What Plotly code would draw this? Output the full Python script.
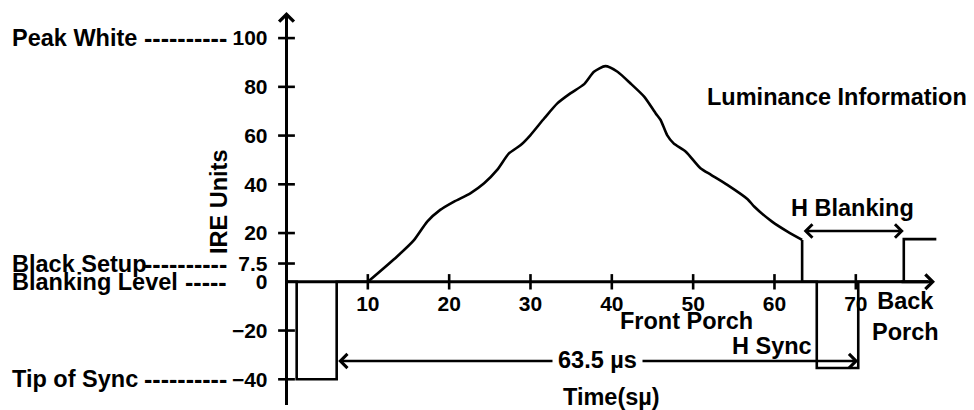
import plotly.graph_objects as go

# ---------------- data ----------------
# luminance waveform (time in µs, level in IRE)
curve_t = [10, 13.6, 15.7, 17.3, 18.9, 20.6, 22.6, 24.3, 25.9, 27.35, 28.8, 30.0,
           31.7, 33.3, 34.9, 36.6, 37.8, 39.2, 40.7, 42.3, 44.0, 45.4, 46.0, 46.8,
           47.6, 49.1, 50.9, 52.2, 54.2, 56.7, 57.5, 59.7, 61.6, 63.4]
curve_v = [0, 10.4, 17.2, 24.7, 29.5, 32.9, 36.3, 40.4, 45.9, 52.7, 56.1, 60.2,
           67.1, 73.2, 77.3, 81.1, 86.2, 88.5, 86.2, 81.4, 75.9, 69.1, 66.4, 60.2,
           56.8, 53.4, 46.6, 43.9, 39.8, 33.9, 30.9, 24.7, 20.6, 17.2]
# sync pulse at line start
sync_t = [0, 1.25, 1.25, 6.17, 6.17, 10]
sync_v = [0, 0, -40, -40, 0, 0]
# horizontal blanking interval
blank_t = [63.4, 63.4, 65.2, 65.2, 70.3, 70.3, 75.9, 75.9, 79.9]
blank_v = [17.2, 0, 0, -35.4, -35.4, 0, 0, 17.5, 17.5]

ytick_vals = [100, 80, 60, 40, 20, 7.5, 0, -20, -40]
ytick_text = ["100", "80", "60", "40", "20", "7.5", "0", "\u221220", "\u221240"]
ymark_vals = [100, 80, 60, 40, 20, 7.5, -20, -40]
xtick_vals = [10, 20, 30, 40, 50, 60, 70]
xtick_text = ["10", "20", "30", "40", "50", "60", "70"]

level_names = ["Peak White", "Black Setup", "Blanking Level", "Tip of Sync"]
level_vals = [100, 7.5, 0, -40]
level_dashes = ["----------", "----------", "-----", "----------"]

# ---------------- geometry ----------------
OFF = 8                        # page body margin of the browser
W, H = 974 - OFF, 410 - OFF    # figure size so the page shows exactly 974x410
X0PX, XSC = 286.5, 8.133       # window pixel of t=0, px per µs
Y0PX, YSC = 281.8, 2.437       # window pixel of 0 IRE, px per IRE
xr = [(OFF - X0PX) / XSC, (974 - X0PX) / XSC]
yr = [(Y0PX - 410) / YSC, (Y0PX - OFF) / YSC]


def tx(px):
    return (px - X0PX) / XSC


def vy(py):
    return (Y0PX - py) / YSC


FONT = "Liberation Sans, Arial, sans-serif"
LW = 2.6
FS = 23.5

fig = go.Figure()

fig.add_trace(go.Scatter(x=curve_t, y=curve_v, mode="lines",
                         line=dict(color="black", width=LW, shape="spline", smoothing=0.6),
                         hoverinfo="skip"))
fig.add_trace(go.Scatter(x=sync_t, y=sync_v, mode="lines",
                         line=dict(color="black", width=LW), hoverinfo="skip"))
fig.add_trace(go.Scatter(x=blank_t, y=blank_v, mode="lines",
                         line=dict(color="black", width=LW), hoverinfo="skip"))
# y-axis line
fig.add_trace(go.Scatter(x=[0, 0], y=[vy(405), vy(20)], mode="lines",
                         line=dict(color="black", width=3), hoverinfo="skip"))
# x-axis line
fig.add_trace(go.Scatter(x=[0, tx(928)], y=[0, 0], mode="lines",
                         line=dict(color="black", width=3), hoverinfo="skip"))
# tick marks crossing the axes
fig.add_trace(go.Scatter(x=[0] * len(ymark_vals), y=ymark_vals, mode="markers",
                         marker=dict(symbol="line-ew", size=12,
                                     line=dict(color="black", width=2.6)),
                         hoverinfo="skip"))
fig.add_trace(go.Scatter(x=xtick_vals, y=[0] * len(xtick_vals), mode="markers",
                         marker=dict(symbol="line-ns", size=11,
                                     line=dict(color="black", width=2.6)),
                         hoverinfo="skip"))

ann = []
# axis arrow heads
ann.append(dict(x=0, y=vy(12), ax=0, ay=vy(40), xref="x", yref="y", axref="x", ayref="y",
                text="", showarrow=True, arrowhead=4, arrowsize=0.95, arrowwidth=3,
                arrowcolor="black"))
ann.append(dict(x=tx(935), y=0, ax=tx(900), ay=0, xref="x", yref="y", axref="x", ayref="y",
                text="", showarrow=True, arrowhead=4, arrowsize=0.95, arrowwidth=3,
                arrowcolor="black"))
# H blanking double arrow
ann.append(dict(x=blank_t[-2], y=vy(231), ax=blank_t[0], ay=vy(231), xref="x", yref="y",
                axref="x", ayref="y", text="", showarrow=True, arrowhead=4,
                startarrowhead=4, arrowside="end+start", arrowsize=1, startarrowsize=1,
                arrowwidth=2.6, arrowcolor="black"))
# 63.5 µs double arrow
ann.append(dict(x=blank_t[4], y=vy(361), ax=sync_t[3], ay=vy(361), xref="x", yref="y",
                axref="x", ayref="y", text="", showarrow=True, arrowhead=4,
                startarrowhead=4, arrowside="end+start", arrowsize=1.05, startarrowsize=1.05,
                arrowwidth=2.6, arrowcolor="black"))


def label(text, px, py, size=FS, xanchor="center", **kw):
    d = dict(x=tx(px), y=vy(py), xref="x", yref="y", text=text, showarrow=False,
             xanchor=xanchor, yanchor="middle",
             font=dict(family=FONT, size=size, color="black", weight="bold"))
    d.update(kw)
    return d


ann.append(label("63.5 \u00b5s", 597, 360, bgcolor="white", borderpad=5))
ann.append(label("Luminance Information", 705, 97, xanchor="left"))
ann.append(label("H Blanking", 852, 208))
ann.append(label("Front Porch", 686.5, 321))
ann.append(label("Back<br>Porch", 905, 316))
ann.append(label("H Sync", 772, 346))
ann.append(label("Time(s\u00b5)", 611.5, 397))
ann.append(label("IRE Units", 219, 202, textangle=-90))

for name, val, dashes in zip(level_names, level_vals, level_dashes):
    ann.append(dict(x=tx(10), y=val, xref="x", yref="y", text=name, showarrow=False,
                    xanchor="left", yanchor="middle",
                    font=dict(family=FONT, size=FS, color="black", weight="bold")))
    ann.append(dict(x=tx(229), y=val, xref="x", yref="y", text=dashes, showarrow=False,
                    xanchor="right", yanchor="middle",
                    font=dict(family=FONT, size=25, color="black", weight="bold")))

fig.update_layout(
    width=W, height=H, autosize=False,
    margin=dict(l=0, r=0, t=0, b=0, pad=0),
    paper_bgcolor="white", plot_bgcolor="white",
    showlegend=False,
    font=dict(family=FONT, size=21, color="black", weight="bold"),
    annotations=ann,
    xaxis=dict(range=xr, showgrid=False, zeroline=False, showline=False, ticks="",
               tickmode="array", tickvals=xtick_vals, ticktext=xtick_text,
               anchor="free", position=(410 - Y0PX) / H, automargin=False,
               ticklabelstandoff=7, fixedrange=True,
               tickfont=dict(family=FONT, size=21, color="black", weight="bold")),
    yaxis=dict(range=yr, showgrid=False, zeroline=False, showline=False, ticks="",
               tickmode="array", tickvals=ytick_vals, ticktext=ytick_text,
               anchor="free", position=(X0PX - OFF) / W, automargin=False,
               ticklabelstandoff=19, fixedrange=True,
               tickfont=dict(family=FONT, size=21, color="black", weight="bold")),
)

fig.write_html("out.html")
